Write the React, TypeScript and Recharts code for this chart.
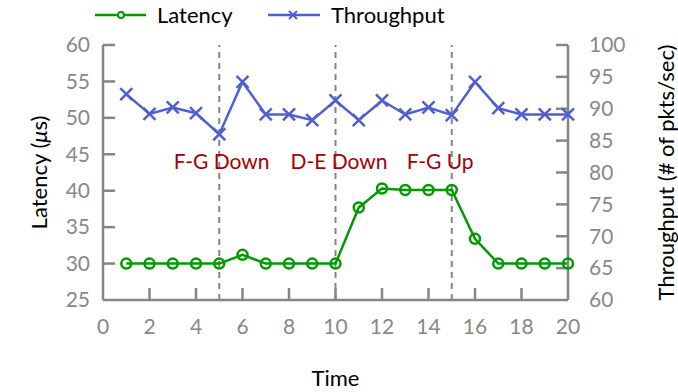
import { LineChart, Line, XAxis, YAxis, ReferenceLine, ReferenceDot } from 'recharts';

// time steps and the two measured series
const time = [1, 2, 3, 4, 5, 6, 7, 8, 9, 10, 11, 12, 13, 14, 15, 16, 17, 18, 19, 20];
const latency = [30, 30, 30, 30, 30, 31.2, 30, 30, 30, 30, 37.7, 40.3, 40.1, 40.1, 40.1, 33.4, 30, 30, 30, 30];
const throughput = [92.3, 89.2, 90.2, 89.3, 86, 94.2, 89.1, 89.1, 88.2, 91.3, 88.2, 91.3, 89.1, 90.2, 89, 94.2, 90.1, 89.1, 89.1, 89.1];

const xTicks = [0, 2, 4, 6, 8, 10, 12, 14, 16, 18, 20];
const latencyTicks = [25, 30, 35, 40, 45, 50, 55, 60];
const throughputTicks = [60, 65, 70, 75, 80, 85, 90, 95, 100];

// events marked with dashed lines
const events = [5, 10, 15];
const eventLabels = [
  { x: 5.1, y: 44, text: 'F-G Down' },
  { x: 10.15, y: 44, text: 'D-E Down' },
  { x: 14.5, y: 44, text: 'F-G Up' },
];

const data = time.map((t, i) => ({ t, latency: latency[i], throughput: throughput[i] }));

const FONT = 'Lato, "Open Sans", sans-serif';
const GREEN = '#009a00';
const BLUE = '#4f5fd3';
const AXIS = '#858585';
const TICK_TEXT = '#888888';

// inward tick marks (gnuplot style), length in axis units (~12px)
const X_TICK_LEN = 0.52;
const LEFT_TICK_LEN = 1.65;

const leftTick = ({ x, y, payload }: any) => (
  <text x={x} y={y} dy="0.35em" textAnchor="end" fill={TICK_TEXT} fontSize={21} fontFamily={FONT}>
    {payload.value}
  </text>
);

const rightTick = ({ x, y, payload }: any) => (
  <text x={x} y={y} dy="0.35em" textAnchor="start" fill={TICK_TEXT} fontSize={21} fontFamily={FONT}>
    {payload.value}
  </text>
);

const bottomTick = ({ x, y, payload }: any) => (
  <text x={x} y={y} dy="0.72em" textAnchor="middle" fill={TICK_TEXT} fontSize={21} fontFamily={FONT}>
    {payload.value}
  </text>
);

const CircleDot = ({ cx, cy, index }: any) => (
  <circle key={`c-${index}`} cx={cx} cy={cy} r={5} fill="none" stroke={GREEN} strokeWidth={2.5} />
);

const CrossDot = ({ cx, cy, index }: any) => (
  <path
    key={`x-${index}`}
    d={`M${cx - 6},${cy - 6}L${cx + 6},${cy + 6}M${cx - 6},${cy + 6}L${cx + 6},${cy - 6}`}
    stroke={BLUE}
    strokeWidth={2.5}
  />
);

const LeftTitle = ({ viewBox }: any) => {
  const x = viewBox.x + 38;
  const y = viewBox.y + viewBox.height / 2;
  return (
    <text x={x} y={y} transform={`rotate(-90, ${x}, ${y})`} textAnchor="middle" dominantBaseline="central" fontSize={22} fontFamily={FONT} fill="#000">
      Latency (<tspan fontStyle="italic">μ</tspan>s)
    </text>
  );
};

const RightTitle = ({ viewBox }: any) => {
  const x = viewBox.x + 97;
  const y = viewBox.y + viewBox.height / 2;
  return (
    <text x={x} y={y} transform={`rotate(-90, ${x}, ${y})`} textAnchor="middle" dominantBaseline="central" fontSize={22} fontFamily={FONT} fill="#000">
      Throughput (# of pkts/sec)
    </text>
  );
};

const BottomTitle = ({ viewBox }: any) => (
  <text x={viewBox.x + viewBox.width / 2} y={viewBox.y + 77} textAnchor="middle" dominantBaseline="central" fontSize={22} fontFamily={FONT} fill="#000">
    Time
  </text>
);

function LegendBar() {
  return (
    <svg width={678} height={32} style={{ position: 'absolute', left: 0, top: 0 }}>
      <line x1={95} x2={146} y1={15} y2={15} stroke={GREEN} strokeWidth={2.5} />
      <circle cx={121} cy={15} r={3} fill="#fff" stroke={GREEN} strokeWidth={2} />
      <text x={157} y={15} dy="0.35em" fontSize={22} fontFamily={FONT} fill="#000">Latency</text>
      <line x1={268} x2={320} y1={15} y2={15} stroke={BLUE} strokeWidth={2.5} />
      <path d="M289,11L297,19M289,19L297,11" stroke={BLUE} strokeWidth={2} />
      <text x={331} y={15} dy="0.35em" fontSize={22} fontFamily={FONT} fill="#000">Throughput</text>
    </svg>
  );
}

export default function App() {
  return (
    <div style={{ position: 'relative', width: 678, height: 392, background: '#fff' }}>
      <style>{`body{margin:0}`}</style>
      <LineChart width={678} height={392} data={data} margin={{ top: 45, right: 0, bottom: 0, left: 0 }}>
        <XAxis
          dataKey="t"
          type="number"
          domain={[0, 20]}
          ticks={xTicks}
          height={92}
          tickSize={0}
          tickMargin={19}
          tickLine={false}
          axisLine={{ stroke: AXIS, strokeWidth: 2.5 }}
          tick={bottomTick}
          label={<BottomTitle />}
        />
        <YAxis
          yAxisId="left"
          domain={[25, 60]}
          ticks={latencyTicks}
          width={103}
          tickSize={0}
          tickMargin={13}
          tickLine={false}
          axisLine={{ stroke: AXIS, strokeWidth: 2.5 }}
          tick={leftTick}
          label={<LeftTitle />}
        />
        <YAxis
          yAxisId="right"
          orientation="right"
          domain={[60, 100]}
          ticks={throughputTicks}
          width={110}
          tickSize={0}
          tickMargin={21}
          tickLine={false}
          axisLine={{ stroke: AXIS, strokeWidth: 2.5 }}
          tick={rightTick}
          label={<RightTitle />}
        />
        {latencyTicks.slice(1).map((v) => (
          <ReferenceLine
            key={`lt-${v}`}
            yAxisId="left"
            segment={[{ x: 0, y: v }, { x: X_TICK_LEN, y: v }]}
            stroke={AXIS}
            strokeWidth={2.5}
          />
        ))}
        {throughputTicks.slice(1).map((v) => (
          <ReferenceLine
            key={`rt-${v}`}
            yAxisId="right"
            segment={[{ x: 20 - X_TICK_LEN, y: v }, { x: 20, y: v }]}
            stroke={AXIS}
            strokeWidth={2.5}
          />
        ))}
        {xTicks.slice(1, -1).map((v) => (
          <ReferenceLine
            key={`bt-${v}`}
            yAxisId="left"
            segment={[{ x: v, y: 25 }, { x: v, y: 25 + LEFT_TICK_LEN }]}
            stroke={AXIS}
            strokeWidth={2.5}
          />
        ))}
        {events.map((e) => (
          <ReferenceLine key={e} x={e} yAxisId="left" stroke={AXIS} strokeWidth={2} strokeDasharray="6 5" />
        ))}
        {eventLabels.map((l) => (
          <ReferenceDot
            key={l.text}
            x={l.x}
            y={l.y}
            yAxisId="left"
            r={0}
            fill="none"
            stroke="none"
            label={{ value: l.text, fill: '#a50000', fontSize: 21, fontFamily: FONT, position: 'center' }}
          />
        ))}
        <Line
          yAxisId="left"
          dataKey="latency"
          stroke={GREEN}
          strokeWidth={2.5}
          dot={<CircleDot />}
          isAnimationActive={false}
        />
        <Line
          yAxisId="right"
          dataKey="throughput"
          stroke={BLUE}
          strokeWidth={2.5}
          dot={<CrossDot />}
          isAnimationActive={false}
        />
      </LineChart>
      <LegendBar />
    </div>
  );
}
